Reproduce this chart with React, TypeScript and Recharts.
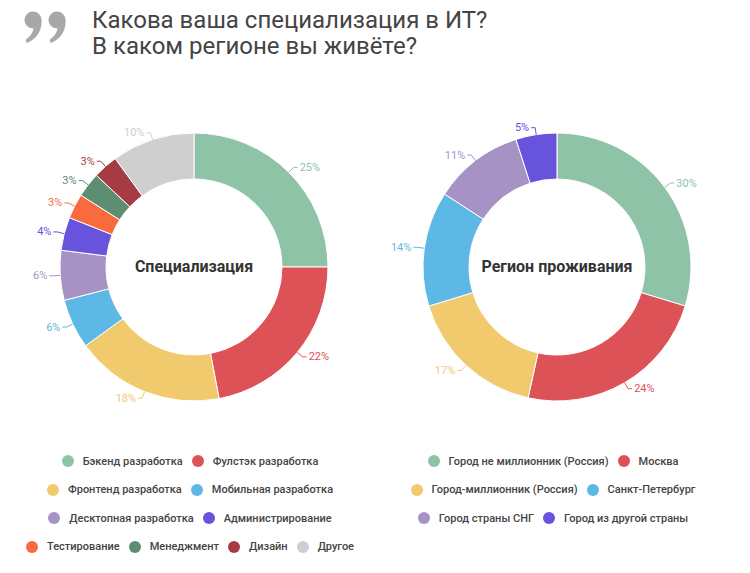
import React from 'react';
import { PieChart, Pie, Cell } from 'recharts';

const specNames = [
  'Бэкенд разработка',
  'Фулстэк разработка',
  'Фронтенд разработка',
  'Мобильная разработка',
  'Десктопная разработка',
  'Администрирование',
  'Тестирование',
  'Менеджмент',
  'Дизайн',
  'Другое',
];
const specValues = [25, 22, 18, 6, 6, 4, 3, 3, 3, 10];
const specColors = ['#8EC3A7', '#DD5257', '#F0CA6D', '#5DB8E5', '#A792C6', '#6753DC', '#F96B3D', '#5E8E72', '#A63B43', '#CFCFCF'];
const specRows = [[0, 1], [2, 3], [4, 5], [6, 7, 8, 9]];

const regionNames = [
  'Город не миллионник (Россия)',
  'Москва',
  'Город-миллионник (Россия)',
  'Санкт-Петербург',
  'Город страны СНГ',
  'Город из другой страны',
];
const regionValues = [30, 24, 17, 14, 11, 5];
const regionColors = ['#8EC3A7', '#DD5257', '#F0CA6D', '#5DB8E5', '#A792C6', '#6753DC'];
const regionRows = [[0, 1], [2, 3], [4, 5]];

const FONT = 'Roboto, "Noto Sans", sans-serif';
const RADIAN = Math.PI / 180;

const specData = specNames.map((name, i) => ({ name, value: specValues[i] }));
const regionData = regionNames.map((name, i) => ({ name, value: regionValues[i] }));

const renderLabel = (colors: string[]) => (props: any) => {
  const { cx, cy, midAngle, outerRadius, value, index } = props;
  const cos = Math.cos(-midAngle * RADIAN);
  const sin = Math.sin(-midAngle * RADIAN);
  const x1 = cx + outerRadius * cos;
  const y1 = cy + outerRadius * sin;
  const x2 = cx + (outerRadius + 7) * cos;
  const y2 = cy + (outerRadius + 7) * sin;
  const x3 = x2 + (cos >= 0 ? 4 : -4);
  const color = colors[index];
  return (
    <g>
      <path d={`M${x1},${y1}L${x2},${y2}L${x3},${y2}`} stroke={color} fill="none" strokeWidth={1} />
      <text
        x={x3 + (cos >= 0 ? 2 : -2)}
        y={y2}
        fill={color}
        fontSize={11}
        fontFamily={FONT}
        textAnchor={cos >= 0 ? 'start' : 'end'}
        dominantBaseline="central"
      >
        {value}%
      </text>
    </g>
  );
};

function QuoteMark() {
  const one = (cx: number) => (
    <g key={cx}>
      <circle cx={cx} cy={20} r={8.5} />
      <path d={`M${cx + 8.5},20 C${cx + 9},32 ${cx + 3},39 ${cx - 6},43 L${cx - 7.5},40 C${cx - 2},36 ${cx + 1},31 ${cx + 0.5},26 Z`} />
    </g>
  );
  return (
    <svg width={80} height={50} style={{ position: 'absolute', left: 0, top: 0 }} fill="#a8a8a8">
      {one(33)}
      {one(57)}
    </svg>
  );
}

function LegendBlock({ names, colors, rows, center, top }: { names: string[]; colors: string[]; rows: number[][]; center: number; top: number }) {
  return (
    <div style={{ position: 'absolute', left: center - 200, top, width: 400 }}>
      {rows.map((row, r) => (
        <div key={r} style={{ display: 'flex', justifyContent: 'center', alignItems: 'center', height: 28.5 }}>
          {row.map((i) => (
            <div key={i} style={{ display: 'flex', alignItems: 'center', margin: '0 4.5px' }}>
              <span style={{ width: 12, height: 12, borderRadius: 6, background: colors[i], marginRight: 9, display: 'inline-block' }} />
              <span style={{ fontSize: 11, color: '#444', fontWeight: 500, fontFamily: FONT }}>{names[i]}</span>
            </div>
          ))}
        </div>
      ))}
    </div>
  );
}

const centerText = (text: string, x: number, y: number) => (
  <div
    style={{
      position: 'absolute',
      left: x - 100,
      top: y - 12,
      width: 200,
      height: 24,
      lineHeight: '24px',
      textAlign: 'center',
      fontSize: 16,
      fontWeight: 700,
      color: '#333',
      fontFamily: FONT,
    }}
  >
    {text}
  </div>
);

export default function App() {
  return (
    <div style={{ position: 'absolute', left: 0, top: 0, width: 750, height: 573, background: '#fff', fontFamily: FONT }}>
      <QuoteMark />
      <div style={{ position: 'absolute', left: 92, top: 7, fontSize: 24, color: '#444', lineHeight: '26px', fontFamily: FONT }}>
        Какова ваша специализация в ИТ?
        <br />
        В каком регионе вы живёте?
      </div>
      <div style={{ position: 'absolute', left: 0, top: 0 }}>
        <PieChart width={750} height={440} margin={{ top: 0, right: 0, bottom: 0, left: 0 }}>
          <Pie
            data={specData}
            dataKey="value"
            cx={194}
            cy={267}
            innerRadius={88}
            outerRadius={134}
            startAngle={90}
            endAngle={-270}
            stroke="#fff"
            strokeWidth={1}
            label={renderLabel(specColors)}
            labelLine={false}
            isAnimationActive={false}
          >
            {specData.map((d, i) => (
              <Cell key={d.name} fill={specColors[i]} />
            ))}
          </Pie>
          <Pie
            data={regionData}
            dataKey="value"
            cx={557}
            cy={267}
            innerRadius={88}
            outerRadius={134}
            startAngle={90}
            endAngle={-270}
            stroke="#fff"
            strokeWidth={1}
            label={renderLabel(regionColors)}
            labelLine={false}
            isAnimationActive={false}
          >
            {regionData.map((d, i) => (
              <Cell key={d.name} fill={regionColors[i]} />
            ))}
          </Pie>
        </PieChart>
      </div>
      {centerText('Специализация', 194, 267)}
      {centerText('Регион проживания', 557, 267)}
      <LegendBlock names={specNames} colors={specColors} rows={specRows} center={190} top={447} />
      <LegendBlock names={regionNames} colors={regionColors} rows={regionRows} center={553} top={447} />
    </div>
  );
}
